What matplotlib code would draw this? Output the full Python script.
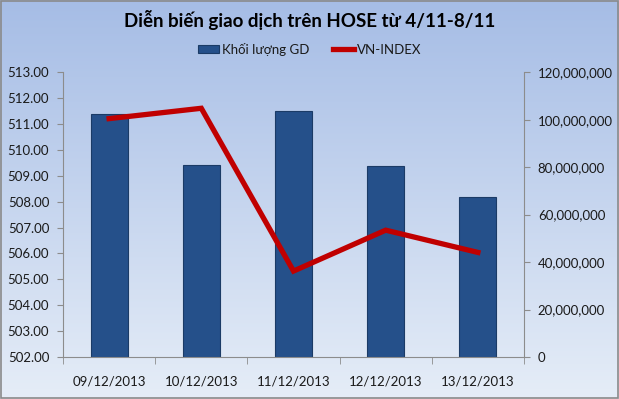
import numpy as np
import matplotlib
matplotlib.use("Agg")
import matplotlib.pyplot as plt
from matplotlib.ticker import FuncFormatter, FixedLocator
from matplotlib.patches import Rectangle

plt.rcParams['font.family'] = ['Lato', 'DejaVu Sans']

# data
ngay = ['09/12/2013', '10/12/2013', '11/12/2013', '12/12/2013', '13/12/2013']
khoi_luong = [102300000, 81000000, 103600000, 80300000, 67500000]
vn_index = [511.21, 511.61, 505.32, 506.90, 506.04]

tieu_de = 'Diễn biến giao dịch trên HOSE từ 4/11-8/11'
txt_col = '#1a1a1a'
axis_col = '#8c8c8c'
fs = 9.5

fig = plt.figure(figsize=(6.19, 3.99), dpi=100)

# nen gradient
bg = fig.add_axes([0, 0, 1, 1], zorder=-10)
grad = np.linspace(0, 1, 256).reshape(-1, 1)
top = np.array([0.65, 0.74, 0.90])
bot = np.array([0.90, 0.93, 0.97])
img = top + (bot - top) * grad[:, :, None]
bg.imshow(img, aspect='auto', extent=[0, 1, 0, 1])
bg.add_patch(Rectangle((0.001, 0.002), 0.997, 0.995, transform=bg.transAxes,
                       fill=False, edgecolor='#8a8a8a', lw=1.2))
bg.set_axis_off()

ax = fig.add_axes([0.1018, 0.1053, 0.7447, 0.7135])
ax.patch.set_alpha(0)
x = np.arange(len(ngay))
ax.bar(x, khoi_luong, width=0.4, color='#25508a', edgecolor='#1b3b66', lw=0.8,
       label='Khối lượng GD', zorder=2)
ax.set_xlim(-0.5, len(ngay) - 0.5)
ax.set_ylim(0, 120000000)
ax.set_yticks(np.arange(0, 120000001, 20000000))
ax.yaxis.set_major_formatter(FuncFormatter(lambda v, p: f'{int(v):,}'))
ax.set_xticks(x)
ax.set_xticklabels(ngay)
ax.xaxis.set_minor_locator(FixedLocator(np.arange(-0.5, len(ngay), 1)))
ax.tick_params(axis='x', which='major', length=0, pad=13, labelsize=fs, labelcolor=txt_col)
ax.tick_params(axis='x', which='minor', length=5, color=axis_col, direction='out')

ax2 = ax.twinx()
ax2.plot(x, vn_index, color='#c00000', lw=3.8, label='VN-INDEX', zorder=3,
         solid_joinstyle='miter')
ax2.set_ylim(502, 513)
ax2.set_yticks(np.arange(502, 513.5, 1))
ax2.yaxis.set_major_formatter(FuncFormatter(lambda v, p: f'{v:.2f}'))

# khoi luong ben phai, index ben trai
ax.yaxis.tick_right()
ax2.yaxis.tick_left()
for a in (ax, ax2):
    a.tick_params(axis='y', length=4, color=axis_col, labelsize=fs, labelcolor=txt_col, pad=6)
for s in ['top', 'left']:
    ax.spines[s].set_visible(False)
for s in ['right', 'bottom']:
    ax.spines[s].set_color(axis_col)
for s in ['top', 'right', 'bottom']:
    ax2.spines[s].set_visible(False)
ax2.spines['left'].set_color(axis_col)

fig.text(0.5, 1 - 20 / 399, tieu_de, ha='center', va='center',
         fontsize=13.5, fontweight='bold', color='black')

h1, l1 = ax.get_legend_handles_labels()
h2, l2 = ax2.get_legend_handles_labels()
fig.legend(h1 + h2, l1 + l2, loc='center', bbox_to_anchor=(0.5, 1 - 49 / 399),
           ncol=2, frameon=False, fontsize=fs, handlelength=1.6, handleheight=0.5,
           handletextpad=0.2, columnspacing=1.8, labelcolor=txt_col)

fig.savefig('out.png', dpi=100)
